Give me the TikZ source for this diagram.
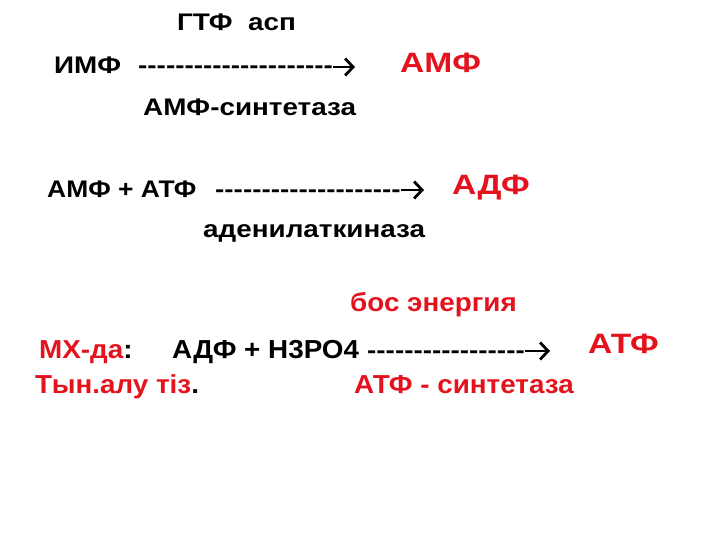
\documentclass[tikz,border=0pt]{standalone}
\usepackage{fontspec}
\usetikzlibrary{arrows.meta}
\setmainfont{Liberation Sans}[FakeStretch=1.16]
\newfontfamily\bigfont{Liberation Sans}[FakeStretch=1.2]
\newfontfamily\lowfont{Liberation Sans}[FakeStretch=1.07]
\newfontfamily\midfont{Liberation Sans}[FakeStretch=1.1]
\definecolor{rd}{RGB}{228,18,28}
\newcommand\mydashes[1]{\foreach\k in {1,...,#1}{-}}
\tikzset{
  txt/.style={inner sep=0pt, anchor=base west, font=\bfseries\fontsize{24}{28}\selectfont},
  big/.style={inner sep=0pt, anchor=base west, text=rd, font=\bigfont\bfseries\fontsize{28}{34}\selectfont},
  low/.style={inner sep=0pt, anchor=base west, font=\lowfont\bfseries\fontsize{26}{30}\selectfont},
  redlow/.style={low, text=rd},
  arr/.style={line width=2.6pt, -{Straight Barb[length=8pt, width=17pt, line width=2.8pt]}},
}
\begin{document}
\begin{tikzpicture}[x=1pt,y=-1pt]
\useasboundingbox (0,0) rectangle (720,540);
\node[txt] (gtf) at (177,31) {ГТФ~~асп};
\node[txt] (imf) at (54,74) {ИМФ};
\node[txt] (d1) at (138,74) {\mydashes{21}};
\coordinate (e1) at (355,67);
\draw[arr] ([yshift=7pt]d1.base east) -- (e1);
\node[big] (amf) at (400,73) {АМФ};
\node[txt] (amfs) at (143,116) {АМФ-синтетаза};
\node[txt, font=\midfont\bfseries\fontsize{24}{28}\selectfont] (l4) at (47,197) {АМФ + АТФ};
\node[txt] (d2) at (215,197) {\mydashes{20}};
\coordinate (e2) at (424,190);
\draw[arr] ([yshift=7pt]d2.base east) -- (e2);
\node[big] (adf) at (452,195) {АДФ};
\node[txt] (aden) at (203,237) {аденилаткиназа};
\node[redlow] (bos) at (350,311) {бос энергия};
\node[low] (mx) at (39,358) {\textcolor{rd}{МХ-да}:};
\node[low] (adf2) at (172,358) {АДФ + Н3РО4};
\node[txt] (d3) at (367,358) {\mydashes{17}};
\coordinate (e3) at (550,351);
\draw[arr] ([yshift=7pt]d3.base east) -- (e3);
\node[big] (atf) at (588,353) {АТФ};
\node[low] (tyn) at (35,393) {\textcolor{rd}{Тын.алу тіз}.};
\node[redlow] (atfs) at (354,393) {АТФ - синтетаза};
\end{tikzpicture}
\end{document}
